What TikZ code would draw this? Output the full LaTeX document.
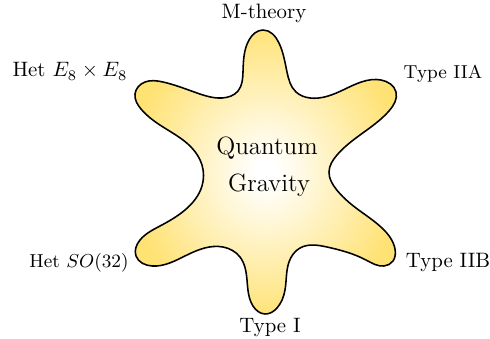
\documentclass[tikz,border=0pt]{standalone}
\usetikzlibrary{hobby}
\definecolor{blobyel}{HTML}{FFE274}
\pgfdeclareradialshading{blobshade}{\pgfpoint{0bp}{0bp}}{color(0bp)=(white); color(2bp)=(white); color(26bp)=(blobyel); color(50bp)=(blobyel)}
\begin{document}
\begin{tikzpicture}[x=0.48pt,y=-0.48pt,
  lbl/.style={anchor=base,inner sep=0pt},
  blob/.style={draw=black,line width=0.75pt,shading=blobshade}]
\useasboundingbox (0,0) rectangle (490,339);
\shade[blob,use Hobby shortcut,closed=true]
 (263,30) .. (279,43) .. (287,72) .. (296,92) .. (310,98) .. (343,90) .. (381,80) .. (396,92) .. (389,111)
 .. (360,135) .. (337,155) .. (329,172) .. (336,189) .. (356,208) .. (382,228) .. (395,249) .. (393,261)
 .. (384,266) .. (366,260) .. (327,247) .. (300,248) .. (289,262) .. (285,290) .. (277,308) .. (265,314) .. (253,306)
 .. (247,280) .. (240,257) .. (223,247) .. (187,255) .. (152,266) .. (136,256) .. (140,240) .. (160,226)
 .. (185,210) .. (202,186) .. (202,165) .. (191,147) .. (163,127) .. (141,109) .. (135,94) .. (145,82)
 .. (163,82) .. (197,93) .. (222,98) .. (238,91) .. (243,72) .. (249,40);
\node[lbl] (m) at (264,19) {M-theory};
\node[lbl] (e8) at (70,77) {Het $E_8\times E_8$};
\node[lbl,font=\small] (iia) at (443,79) {Type IIA};
\node[lbl,font=\small] (so) at (79,267) {Het $SO(32)$};
\node[lbl] (iib) at (448,267) {Type IIB};
\node[lbl] (ti) at (270,332) {Type I};
\node[lbl,font=\large] (q) at (267,155) {Quantum};
\node[lbl,font=\large] (g) at (269,191) {Gravity};
\end{tikzpicture}
\end{document}
